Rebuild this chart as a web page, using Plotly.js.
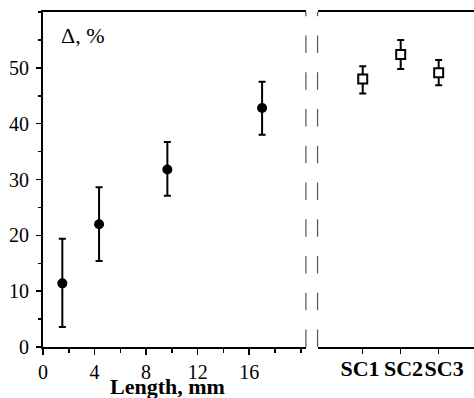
<!DOCTYPE html>
<html>
<head>
<meta charset="utf-8">
<script src="https://cdn.plot.ly/plotly-3.0.1.min.js"></script>
<style>html,body{margin:0;padding:0;background:#fff;}#chart{width:474px;height:398px;}</style>
</head>
<body>
<div id="chart"></div>
<script>
// Left panel: length (mm) vs Δ (%)
const lengthMm = [1.5, 4.35, 9.65, 17.0];
const deltaLen = [11.4, 22.0, 31.8, 42.8];
const errLenPlus = [8.0, 6.6, 4.9, 4.7];
const errLenMinus = [7.8, 6.6, 4.7, 4.8];

// Right panel: samples
const sampleCats = ["SC1", "SC2", "SC3"];
const samplePos = [0, 1, 2];
const deltaSC = [48.0, 52.4, 49.1];
const errSCPlus = [2.3, 2.6, 2.3];
const errSCMinus = [2.6, 2.6, 2.2];

const leftTicks = [0, 4, 8, 12, 16];
const yTicks = [0, 10, 20, 30, 40, 50];

const serif = "Liberation Serif";
const nb = "\u00A0";

const traces = [
  {
    x: lengthMm, y: deltaLen, type: "scatter", mode: "markers",
    xaxis: "x", yaxis: "y",
    marker: {symbol: "circle", size: 10, color: "#000"},
    error_y: {type: "data", symmetric: false, array: errLenPlus, arrayminus: errLenMinus,
              color: "#000", thickness: 2, width: 3.5},
    showlegend: false, hoverinfo: "skip"
  },
  {
    x: samplePos, y: deltaSC, type: "scatter", mode: "markers",
    xaxis: "x2", yaxis: "y",
    marker: {symbol: "square", size: 9, color: "#fff", line: {color: "#000", width: 2}},
    error_y: {type: "data", symmetric: false, array: errSCPlus, arrayminus: errSCMinus,
              color: "#000", thickness: 2, width: 3.5},
    showlegend: false, hoverinfo: "skip"
  }
];

const breakDash = "17.5px,19.25px";
const scLabels = [
  "<b>" + sampleCats[0] + nb + "</b>",
  "<b>" + nb + sampleCats[1] + "</b>",
  "<b>" + nb + nb + sampleCats[2] + "</b>"
];

const layout = {
  width: 474, height: 398,
  margin: {l: 43, r: 0, t: 12, b: 51},
  paper_bgcolor: "#fff", plot_bgcolor: "#fff",
  font: {family: serif, color: "#000", size: 20},
  showlegend: false,
  xaxis: {
    domain: [0, 0.610], range: [0, 20.4], anchor: "y",
    tickvals: leftTicks, ticktext: leftTicks.map(String), tickangle: 0,
    ticks: "outside", ticklen: 6, tickwidth: 1.5, tickcolor: "#000",
    minor: {dtick: 2, tick0: 0, ticks: "outside", ticklen: 4, tickwidth: 1.5, tickcolor: "#000"},
    showline: true, linecolor: "#000", linewidth: 2, mirror: true,
    showgrid: false, zeroline: false,
    tickfont: {family: serif, size: 20},
    automargin: false
  },
  xaxis2: {
    domain: [0.637, 1], range: [-1.19, 2.93], anchor: "y",
    tickvals: samplePos, ticktext: scLabels, tickangle: 0,
    ticks: "outside", ticklen: 5, tickwidth: 1.5, tickcolor: "#000",
    ticklabelstandoff: -4,
    showline: true, linecolor: "#000", linewidth: 2, mirror: true,
    showgrid: false, zeroline: false,
    tickfont: {family: serif, size: 22},
    automargin: false
  },
  yaxis: {
    range: [0, 60], anchor: "x",
    tickvals: yTicks, ticktext: yTicks.map(String),
    ticks: "outside", ticklen: 5, tickwidth: 1.5, tickcolor: "#000",
    ticklabelstandoff: 3,
    minor: {dtick: 5, tick0: 0, ticks: "outside", ticklen: 3, tickwidth: 1.5, tickcolor: "#000"},
    showline: true, linecolor: "#000", linewidth: 2,
    showgrid: false, zeroline: false,
    tickfont: {family: serif, size: 20},
    automargin: false
  },
  shapes: [
    {type: "line", xref: "x domain", yref: "paper", x0: 1, x1: 1, y0: 0, y1: 1,
     line: {color: "#555", width: 1.2, dash: breakDash}},
    {type: "line", xref: "x2 domain", yref: "paper", x0: 0, x1: 0, y0: 0, y1: 1,
     line: {color: "#555", width: 1.2, dash: breakDash}}
  ],
  annotations: [
    {text: "Δ, %", xref: "paper", yref: "paper", x: 0.038, y: 0.93,
     xanchor: "left", yanchor: "middle", showarrow: false,
     font: {family: serif, size: 22, color: "#000"}},
    {text: "<b>Length, mm</b>", xref: "x domain", yref: "paper", x: 0.475, y: -0.117,
     xanchor: "center", yanchor: "middle", showarrow: false,
     font: {family: serif, size: 22, color: "#000"}}
  ]
};

Plotly.newPlot("chart", traces, layout, {staticPlot: true, displayModeBar: false});
</script>
</body>
</html>
